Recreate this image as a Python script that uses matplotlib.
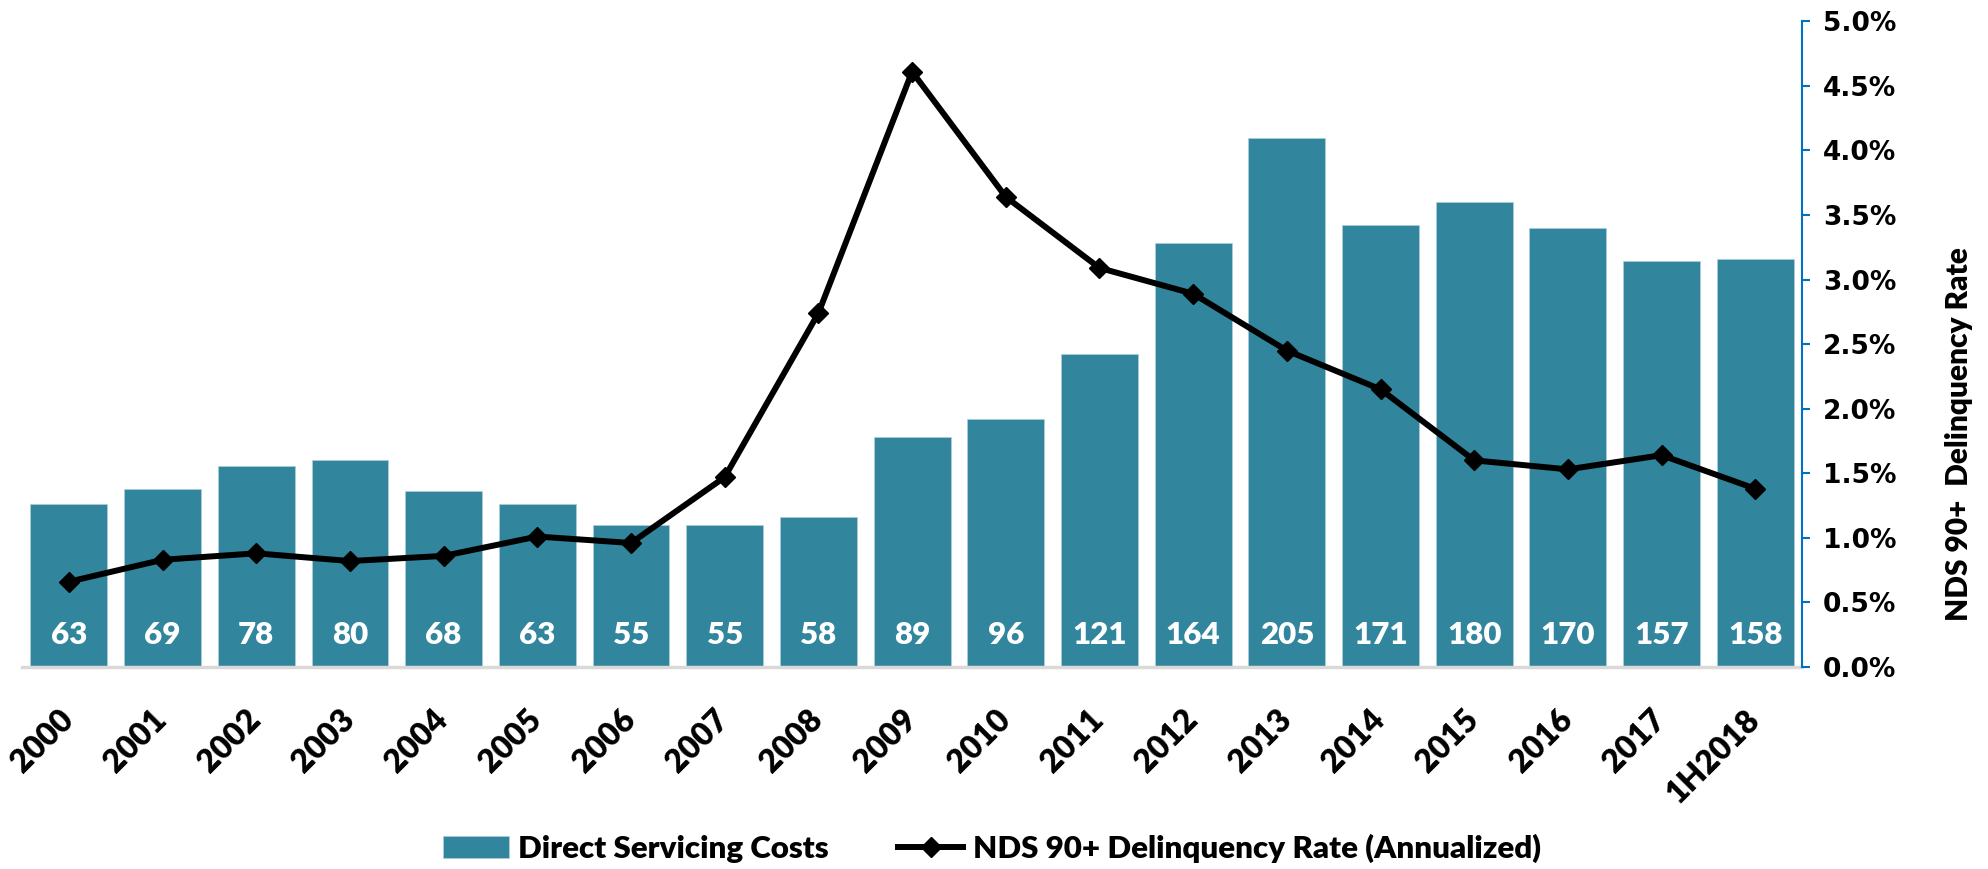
import matplotlib
matplotlib.use("Agg")
import matplotlib.pyplot as plt
import numpy as np

# ---- data ----
categories = ["2000", "2001", "2002", "2003", "2004", "2005", "2006", "2007", "2008",
              "2009", "2010", "2011", "2012", "2013", "2014", "2015", "2016", "2017", "1H2018"]
servicing_costs = [63, 69, 78, 80, 68, 63, 55, 55, 58, 89, 96, 121, 164, 205, 171, 180, 170, 157, 158]
delinquency_rate = [0.66, 0.83, 0.88, 0.82, 0.86, 1.01, 0.96, 1.47, 2.74, 4.61, 3.64, 3.09,
                    2.89, 2.45, 2.15, 1.60, 1.53, 1.64, 1.38]
right_ticks = [0.0, 0.5, 1.0, 1.5, 2.0, 2.5, 3.0, 3.5, 4.0, 4.5, 5.0]

BAR_COLOR = "#31859c"
AXIS_BLUE = "#0070c0"
CAL = ["Lato", "DejaVu Sans"]

fig = plt.figure(figsize=(19.88, 8.69), dpi=100)
ax = fig.add_axes([0.0111, 0.2325, 0.8954, 0.743])
x = np.arange(len(categories))

bars = ax.bar(x, servicing_costs, width=0.82, color=BAR_COLOR, edgecolor="#a9cdd8",
              linewidth=0.6, zorder=2)
ax.set_xlim(-0.5, len(categories) - 0.5)
ax.set_ylim(0, 250)

for xi, v in zip(x, servicing_costs):
    ax.annotate(str(v), xy=(xi, 0), xytext=(0, 23), textcoords="offset points",
                ha="center", va="center", color="white", fontsize=22.5,
                fontweight="heavy", family=CAL, zorder=5)

# category labels, rotated, top-right aligned just right of the bar centre
ax.set_xticks([])
for xi, lab in zip(x, categories):
    ax.annotate(lab, xy=(xi, 0), xycoords=("data", "axes fraction"),
                xytext=(7, -27), textcoords="offset points", rotation=45,
                ha="right", va="top", fontsize=23, fontweight="heavy",
                family=CAL, annotation_clip=False)

ax.set_yticks([])
for s in ["left", "top", "right"]:
    ax.spines[s].set_visible(False)
ax.spines["bottom"].set_color("#d9d9d9")
ax.spines["bottom"].set_linewidth(2.5)
ax.spines["bottom"].set_zorder(3)

ax2 = ax.twinx()
ax2.set_ylim(0, 5.0)
line, = ax2.plot(x, delinquency_rate, color="black", linewidth=4.3, marker="D",
                 markersize=10, zorder=4)
ax2.set_yticks(right_ticks)
ax2.set_yticklabels([f"{t:.1f}%" for t in right_ticks], fontsize=19,
                    fontweight="bold", family="DejaVu Sans")
ax2.tick_params(axis="y", colors=AXIS_BLUE, length=6, width=1.5, pad=9,
                labelcolor="black")
for s in ["left", "top", "bottom"]:
    ax2.spines[s].set_visible(False)
ax2.spines["right"].set_color(AXIS_BLUE)
ax2.spines["right"].set_linewidth(1.5)
ax2.set_ylabel("NDS 90+  Delinquency Rate", fontsize=21.5, fontweight="heavy",
               family=CAL, rotation=90)
ax2.yaxis.set_label_coords(1.080, 0.36)

bars.set_label("Direct Servicing Costs")
line.set_label("NDS 90+ Delinquency Rate (Annualized)")
fig.legend(handles=[bars, line], loc="center", bbox_to_anchor=(0.499, 0.024),
           ncol=2, frameon=False, prop={"family": CAL, "weight": "heavy", "size": 22.5},
           handlelength=2.1, handleheight=0.7, columnspacing=2.2, handletextpad=0.3)

fig.savefig("out.png", dpi=100)
